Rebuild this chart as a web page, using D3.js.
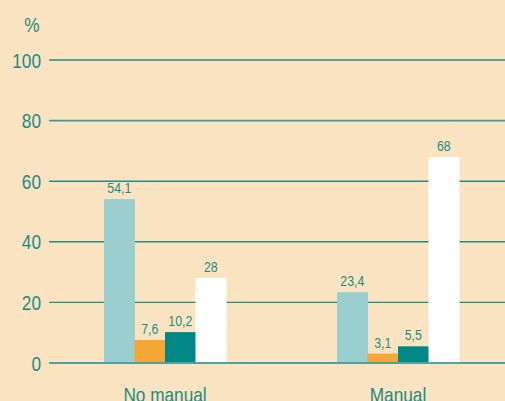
<!DOCTYPE html>
<html>
<head>
<meta charset="utf-8">
<script src="https://cdn.jsdelivr.net/npm/d3@7"></script>
<style>
	html, body { margin: 0; padding: 0; background: #fae3c1; }
	svg { display: block; }
	text { font-family: "Liberation Sans", Arial, Helvetica, sans-serif; fill: #1a8b86; }
</style>
</head>
<body>
<div id="chart"></div>
<script>
// categories and series
var categories = ['No manual', 'Manual']
var seriesKeys = ['s1', 's2', 's3', 's4']
var seriesColors = ['#9bcfcf', '#f4a636', '#008786', '#ffffff']
var valuesNoManual = [54.1, 7.6, 10.2, 28]
var valuesManual = [23.4, 3.1, 5.5, 68]
var yTicks = [0, 20, 40, 60, 80, 100]

var values = [valuesNoManual, valuesManual]

var W = 505, H = 401
var narrow = 0.82 // the original type is a condensed face

var svg = d3.select('#chart').append('svg')
	.attr('width', W)
	.attr('height', H)

svg.append('rect')
	.attr('width', W)
	.attr('height', H)
	.attr('fill', '#fae3c1')

var y = d3.scaleLinear()
	.domain([0, 100])
	.range([363, 60])

var x0 = d3.scaleBand()
	.domain(categories)
	.range([104, 459])
	.paddingInner(0.4764)
	.paddingOuter(0)

var x1 = d3.scaleBand()
	.domain(seriesKeys)
	.range([0, x0.bandwidth()])

var place = (px, py) => `translate(${px},${py}) scale(${narrow},1)`

// gridlines
svg.append('g').selectAll('line')
	.data(yTicks)
	.enter().append('line')
	.attr('x1', 49)
	.attr('x2', W)
	.attr('y1', d => y(d))
	.attr('y2', d => y(d))
	.attr('stroke', d => d === 80 ? '#3d9a94' : '#1f8e89')
	.attr('stroke-width', d => d === 80 ? 1.8 : 1.4)

// y tick labels
svg.append('g').selectAll('text')
	.data(yTicks)
	.enter().append('text')
	.attr('transform', d => place(41, y(d) + 7.5))
	.attr('text-anchor', 'end')
	.style('font-size', '21px')
	.text(d => d)

svg.append('text')
	.attr('transform', place(32, 32))
	.attr('text-anchor', 'middle')
	.style('font-size', '21px')
	.text('%')

// bars
var groups = svg.append('g').selectAll('g')
	.data(categories)
	.enter().append('g')
	.attr('transform', d => `translate(${x0(d)},0)`)

groups.selectAll('rect')
	.data((d, i) => values[i].map((v, j) => ({ key: seriesKeys[j], value: v, color: seriesColors[j] })))
	.enter().append('rect')
	.attr('x', d => x1(d.key))
	.attr('width', x1.bandwidth() + 0.5)
	.attr('y', d => y(d.value))
	.attr('height', d => y(0) - y(d.value))
	.attr('fill', d => d.color)

groups.selectAll('text.val')
	.data((d, i) => values[i].map((v, j) => ({ key: seriesKeys[j], value: v })))
	.enter().append('text')
	.attr('class', 'val')
	.attr('transform', d => place(x1(d.key) + x1.bandwidth() / 2, y(d.value) - 6))
	.attr('text-anchor', 'middle')
	.style('font-size', '15px')
	.text(d => String(d.value).replace('.', ','))

// baseline on top of the bars
svg.append('line')
	.attr('x1', 49)
	.attr('x2', W)
	.attr('y1', y(0))
	.attr('y2', y(0))
	.attr('stroke', '#4fa39c')
	.attr('stroke-width', 2)

// category labels
svg.append('g').selectAll('text')
	.data(categories)
	.enter().append('text')
	.attr('transform', d => place(x0(d) + x0.bandwidth() / 2, 402))
	.attr('text-anchor', 'middle')
	.style('font-size', '21px')
	.text(d => d)
</script>
</body>
</html>
